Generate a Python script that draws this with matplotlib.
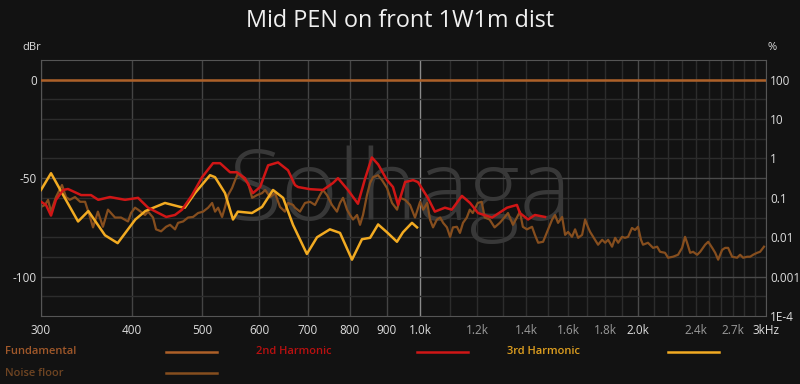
import matplotlib.pyplot as plt
from matplotlib.lines import Line2D

# valeurs : frequence (Hz) / niveau (dBr)
fund_f = [300, 3000]
fund_db = [0, 0]

h2_f = [300, 304.8, 309.7, 314.6, 321.9, 326.8, 340.8, 351.6, 359.8, 373.5, 391.8, 408.3,
        421.5, 446.5, 459.1, 469.5, 484.7, 500.4, 518.1, 529.8, 546.9, 558.8, 573.2, 588.1,
        601.6, 617.1, 636.9, 657.4, 672.1, 678.6, 705, 734.6, 758.1, 770.4, 795.2, 820.9,
        839.3, 858, 875.2, 900.3, 917.5, 932.5, 953.4, 978, 993.3, 1025, 1048, 1082,
        1106, 1142, 1172, 1202, 1257, 1318, 1360, 1373, 1409, 1440, 1487]
h2_db = [-62, -63.6, -69, -61, -56, -55.5, -58.6, -58.6, -61, -59.6, -61, -60,
         -65, -69.7, -68.7, -66, -58.6, -49.5, -42.4, -42.4, -47, -47, -50, -57.6,
         -54.5, -43.5, -42, -46, -53.5, -54.5, -55.6, -56, -52.5, -50, -56, -63,
         -50.5, -39.5, -43, -51, -54.5, -63.6, -52, -51, -52, -60, -67, -65,
         -66, -59, -62.6, -67.7, -70, -65, -63.6, -67.7, -71, -68.7, -69.7]

h3_f = [300, 309.7, 321.9, 337.5, 348.7, 367.6, 382.7, 404.8, 417.9, 444.8, 466.8, 473.7,
        489.2, 513.2, 521.4, 538.2, 552, 560.6, 586.3, 605.4, 626.8, 647.2, 667.9, 698,
        720.9, 750.9, 775.4, 805.5, 831.5, 853.2, 875.2, 900.3, 929.2, 947, 974.5, 990.4]
h3_db = [-56, -47.5, -58.6, -72, -66.7, -79, -83, -71, -66.7, -62.6, -64.6, -65,
         -57.6, -48.5, -49.5, -57.6, -71, -67, -67.7, -64.6, -56, -60, -73.7, -88.5,
         -80, -76, -77.8, -91.4, -81, -80.3, -73.5, -77.5, -82.3, -77.5, -72.7, -75]

noise_f = [300, 303.8, 306.8, 309.7, 314.6, 320.7, 324.8, 328.7, 334.2, 339.7, 345.1, 350.5,
           353.9, 359.4, 365.2, 371.1, 379.5, 386.8, 395.5, 399.3, 404.4, 408.3, 417.5, 421.5,
           428.2, 432.3, 439.3, 446.3, 452, 459.2, 463.6, 471.1, 478.6, 486.3, 494.1, 502,
           510.1, 516.6, 521.5, 526.5, 533.2, 538.3, 543.5, 550.4, 555.7, 561.1, 570, 579.1,
           586.6, 595.8, 605.4, 611.3, 621, 630.9, 640.9, 651, 657.4, 667.9, 672.1, 682.8,
           693.8, 705, 716.1, 727.7, 734.6, 744, 755.9, 768, 775.4, 782.9, 792.9, 800.5,
           808.2, 818.6, 826.3, 834.2, 844.8, 853, 861.2, 875, 886.1, 900.3, 914.8, 929.5,
           938.3, 953.4, 968.6, 984, 1000, 1010, 1023, 1032, 1042, 1055, 1066, 1076,
           1089, 1100, 1110, 1124, 1135, 1146, 1160, 1171, 1182, 1201, 1216, 1228,
           1247, 1267, 1288, 1309, 1322, 1343, 1360, 1373, 1386, 1404, 1427, 1440,
           1455, 1478, 1497, 1521, 1535, 1550, 1570, 1585, 1600, 1620, 1636, 1652,
           1673, 1689, 1705, 1716, 1743, 1760, 1783, 1800, 1817, 1840, 1858, 1876,
           1899, 1917, 1936, 1960, 1979, 1998, 2017, 2030, 2062, 2096, 2123, 2143,
           2177, 2198, 2233, 2269, 2298, 2320, 2335, 2358, 2380, 2411, 2434, 2473,
           2497, 2529, 2553, 2577, 2610, 2635, 2660, 2694, 2737, 2763, 2790, 2826,
           2853, 2880, 2917, 2944, 2981]
noise_db = [-64.6, -63.6, -61, -67, -59.6, -53.5, -59.6, -61, -59.6, -62, -62, -69.7,
            -75, -67, -74.7, -66, -70, -70, -72, -67.7, -65, -66, -68.7, -67,
            -70, -76, -77, -74.7, -73.7, -76, -72.7, -72, -70, -69.7, -67.7, -67,
            -65, -62.6, -67, -65, -69.7, -64.6, -58.6, -55, -51, -47.5, -50, -52.5,
            -60, -58.6, -57.6, -56, -59.6, -57.6, -64.6, -67, -62.6, -63.6, -65, -67,
            -62.6, -62, -63.6, -58.6, -56, -58.6, -63.6, -67, -62.6, -60, -66, -68.7,
            -71, -68.7, -73.7, -68.7, -58.6, -52.5, -49.5, -48.5, -51, -55, -62.6, -66,
            -60, -61, -63.6, -70, -62, -66, -62.6, -71, -75, -71, -70, -72.7,
            -75, -79.8, -75, -74.7, -77.8, -72.7, -70, -66, -67.7, -62.6, -62, -70,
            -71, -75, -72.7, -69.7, -67.7, -73.7, -70, -67, -74.7, -76, -74.7, -78.8,
            -82.8, -82.3, -77.3, -71, -68.7, -72.7, -69.7, -78.8, -77.3, -79.8, -76, -80.3,
            -78.8, -71, -75, -77.3, -81.3, -83.8, -81.3, -82.8, -81.3, -84.8, -80.3, -82.8,
            -79.8, -80.3, -79.8, -75.3, -76.3, -74.7, -81.3, -83.8, -82.8, -85.4, -84.8, -87.4,
            -87.9, -90.4, -89.9, -88.9, -85.4, -79.8, -82.8, -87.9, -87.4, -88.9, -87.4, -83.8,
            -82.3, -85.4, -87.9, -91.4, -86.4, -85.4, -85.4, -89.9, -90.4, -88.9, -90.4, -89.9,
            -89.9, -88.9, -87.9, -87.4, -84.8]

# graduations
xtick_f = [300, 400, 500, 600, 700, 800, 900, 1000, 1200, 1400, 1600, 1800, 2000, 2400, 2700, 3000]
xtick_lab = ['300', '400', '500', '600', '700', '800', '900', '1.0k', '1.2k', '1.4k', '1.6k',
             '1.8k', '2.0k', '2.4k', '2.7k', '3kHz']
ytick_l = [0, -50, -100]
ytick_r = [0, -20, -40, -60, -80, -100, -120]
ytick_r_lab = ['100', '10', '1', '0.1', '0.01', '0.001', '1E-4']

bg = '#121212'
c_fund = '#ad6028'
c_noise = '#864e1e'
c_h2 = '#d01616'
c_h3 = '#f2ab22'

plt.rcParams['font.family'] = ['Open Sans', 'DejaVu Sans']

fig = plt.figure(figsize=(8, 3.84), dpi=100, facecolor=bg)
ax = fig.add_axes([41/800, 1 - 316/384, 725/800, 256/384], facecolor=bg)
ax.set_xscale('log')
ax.set_xlim(300, 3000)
ax.set_ylim(-120, 10)

# grille
for f in range(300, 3001, 100):
    if f in (1000, 2000):
        col = '#8a8a8a' if f == 1000 else '#4a4a4a'
    elif f < 1000:
        col = '#444444'
    else:
        col = '#2c2c2c'
    ax.axvline(f, color=col, lw=1, zorder=0)
for d in range(-110, 10, 10):
    col = '#4a4a4a' if d % 50 == 0 else '#2c2c2c'
    ax.axhline(d, color=col, lw=1, zorder=0)

ax.text(0.495, 0.375, 'Solhaga', transform=ax.transAxes, ha='center', va='baseline',
        fontsize=70, color='#383838', fontweight='light', zorder=1)

ax.plot(noise_f, noise_db, color=c_noise, lw=1.6, zorder=2)
ax.plot(h3_f, h3_db, color=c_h3, lw=1.8, zorder=3)
ax.plot(h2_f, h2_db, color=c_h2, lw=1.8, zorder=4)
ax.plot(fund_f, fund_db, color=c_fund, lw=1.8, zorder=5)

for s in ax.spines.values():
    s.set_color('#555555')

ax.set_xticks(xtick_f)
ax.set_xticklabels(xtick_lab)
ax.minorticks_off()
ax.set_yticks(ytick_l)
ax.set_yticklabels(['0', '-50', '-100'])
ax.tick_params(axis='x', length=0, labelsize=8.5, colors='#dddddd', pad=6)
ax.tick_params(axis='y', length=0, labelsize=8.5, colors='#dddddd', pad=3)
for t, lab in zip(ax.get_xticklabels(), xtick_lab):
    if lab in ('1.2k', '1.4k', '1.6k', '1.8k', '2.4k', '2.7k'):
        t.set_color('#9a9a9a')

ax2 = ax.twinx()
ax2.set_ylim(-120, 10)
ax2.set_yticks(ytick_r)
ax2.set_yticklabels(ytick_r_lab)
ax2.tick_params(length=0, labelsize=8.5, colors='#dddddd', pad=3)
for s in ax2.spines.values():
    s.set_visible(False)

fig.text(0.5, 1 - 21/384, 'Mid PEN on front 1W1m dist', ha='center', va='center',
         fontsize=16.8, color='#f0f0f0')
fig.text(22/800, 1 - 48/384, 'dBr', ha='left', va='center', fontsize=8, color='#dddddd')
fig.text(768/800, 1 - 48/384, '%', ha='left', va='center', fontsize=8, color='#dddddd')

# legende
leg = [('Fundamental', c_fund, '#a0582a', 5, 166, 352),
       ('2nd Harmonic', c_h2, '#b81010', 256, 417, 352),
       ('3rd Harmonic', c_h3, '#e0a020', 507, 668, 352),
       ('Noise floor', c_noise, '#6e4422', 5, 166, 373)]
for name, lc, tc, xt, xl, y in leg:
    fig.text(xt/800, 1 - y/384, name, ha='left', va='center', fontsize=8,
             color=tc, fontweight='semibold')
    fig.add_artist(Line2D([xl/800, (xl + 51)/800], [1 - y/384, 1 - y/384],
                          transform=fig.transFigure, color=lc, lw=1.8))

fig.savefig('out.png', dpi=100, facecolor=bg)
